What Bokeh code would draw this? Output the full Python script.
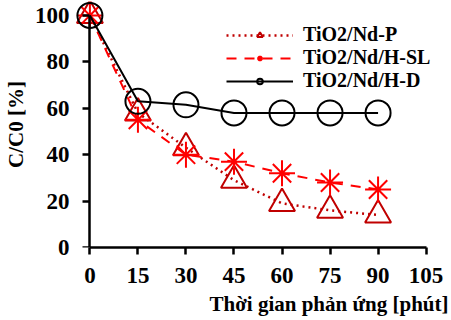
from bokeh.plotting import figure
from bokeh.models import Range1d, FixedTicker, Legend, LegendItem, Title, LinearAxis
from bokeh.embed import file_html
from bokeh.resources import INLINE

time_min = [0, 15, 30, 45, 60, 75, 90]
nd_p = [100, 58, 43, 29, 19, 16, 14]
nd_hsl = [100, 55, 40, 37, 32, 28, 25]
nd_hd = [100, 63, 61.5, 58, 58, 58, 58]
x_ticks = [0, 15, 30, 45, 60, 75, 90, 105]
y_ticks = [0, 20, 40, 60, 80, 100]

FONT = "Liberation Serif"

p = figure(width=451, height=320, output_backend="svg", toolbar_location=None,
           x_range=Range1d(-4.5, 109.5), y_range=Range1d(0, 106),
           min_border_left=74, min_border_right=11, min_border_top=1, min_border_bottom=73)
p.outline_line_color = None
p.xgrid.visible = False
p.ygrid.visible = False

r1 = p.line(time_min, nd_p, line_color="#C00000", line_width=2.5, line_dash="dotted")
s1 = p.scatter(time_min, nd_p, marker="triangle", size=26, line_color="#C00000",
               fill_color=None, line_width=2)
r2 = p.line(time_min, nd_hsl, line_color="#FF0000", line_width=2, line_dash="10 8")
s2 = p.scatter(time_min, nd_hsl, marker="asterisk", size=26, line_color="#FF0000", line_width=2)
r3 = p.line(time_min, nd_hd, line_color="black", line_width=2)
s3 = p.scatter(time_min, nd_hd, marker="circle", size=25, line_color="black",
               fill_color=None, line_width=2)

# x axis
xa = p.xaxis[0]
xa.ticker = FixedTicker(ticks=x_ticks)
xa.bounds = (0, 105)
xa.axis_line_width = 2.5
xa.axis_line_color = "black"
xa.major_tick_line_width = 2.5
xa.major_tick_line_color = "black"
xa.major_tick_out = 7
xa.major_tick_in = 0
xa.minor_tick_line_color = None
xa.major_label_text_font = FONT
xa.major_label_text_font_style = "bold"
xa.major_label_text_font_size = "23px"
xa.major_label_text_color = "black"
xa.major_label_standoff = 13

# y axis at the frame edge: carries only the labels and the title
ya = p.yaxis[0]
ya.ticker = FixedTicker(ticks=y_ticks)
ya.axis_line_color = None
ya.major_tick_line_color = None
ya.minor_tick_line_color = None
ya.major_tick_out = 0
ya.major_tick_in = 0
ya.major_label_text_font = FONT
ya.major_label_text_font_style = "bold"
ya.major_label_text_font_size = "23px"
ya.major_label_text_color = "black"
ya.major_label_standoff = 6
ya.axis_label = "C/C0 [%]"
ya.axis_label_text_font = FONT
ya.axis_label_text_font_style = "bold"
ya.axis_label_text_font_size = "21px"
ya.axis_label_text_color = "black"
ya.axis_label_standoff = 4

# y axis line and ticks drawn at x = 0
ya2 = LinearAxis(ticker=FixedTicker(ticks=y_ticks), fixed_location=0, bounds=(0, 100),
                 axis_line_width=2.5, axis_line_color="black",
                 major_tick_line_width=2.5, major_tick_line_color="black",
                 major_tick_in=7, major_tick_out=0, minor_tick_line_color=None,
                 major_label_text_color=None, major_label_standoff=0)
p.add_layout(ya2, "right")

xtitle = Title(text="Thời gian phản ứng [phút]", align="right", text_font=FONT,
               text_font_style="bold", text_font_size="21px", text_color="black",
               offset=-8, standoff=9)
p.add_layout(xtitle, "below")

legend = Legend(items=[
    LegendItem(label="TiO2/Nd-P", renderers=[r1, s1]),
    LegendItem(label="TiO2/Nd/H-SL", renderers=[r2, s2]),
    LegendItem(label="TiO2/Nd/H-D", renderers=[r3, s3]),
], location=(151, 155))
legend.background_fill_alpha = 0
legend.border_line_color = None
legend.label_text_font = FONT
legend.label_text_font_style = "bold"
legend.label_text_font_size = "20px"
legend.label_text_color = "black"
legend.glyph_width = 67
legend.glyph_height = 14
legend.spacing = -1
legend.padding = 0
legend.margin = 0
legend.label_standoff = 10
legend.label_height = 20
p.add_layout(legend)

open("out.html", "w").write(file_html(p, INLINE))
